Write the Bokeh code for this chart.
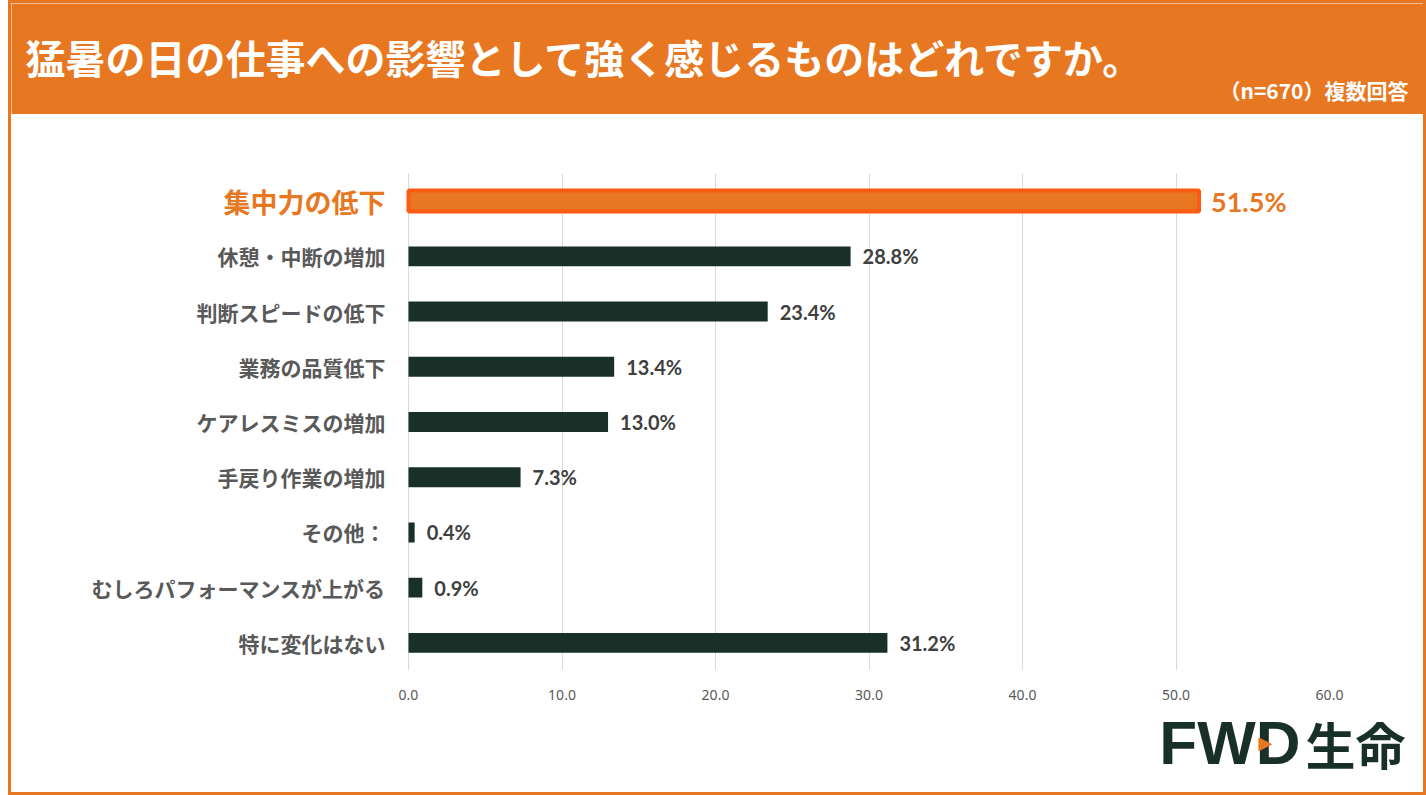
from bokeh.core.properties import value
from bokeh.embed import file_html
from bokeh.layouts import column
from bokeh.models import (ColumnDataSource, FactorRange, Label, LabelSet,
                          NumeralTickFormatter, Range1d)
from bokeh.plotting import figure
from bokeh.resources import INLINE

# survey results (%), n=670, multiple answers
categories = ["集中力の低下", "休憩・中断の増加", "判断スピードの低下", "業務の品質低下",
              "ケアレスミスの増加", "手戻り作業の増加", "その他：",
              "むしろパフォーマンスが上がる", "特に変化はない"]
values = [51.5, 28.8, 23.4, 13.4, 13.0, 7.3, 0.4, 0.9, 31.2]
x_ticks = [0, 10, 20, 30, 40, 50, 60]
highlight = "集中力の低下"

title_text = "猛暑の日の仕事への影響として強く感じるものはどれですか。"
note_text = "（n=670）複数回答"

ORANGE = "#E87722"
ORANGE_LINE = "#FF5A14"
DARK = "#183028"
GREY = "#595959"
JP = "Noto Sans CJK JP"

W = 1412          # inner width (3px orange frame on each side + 8px margin)
HEAD_H, MAIN_H, FOOT_H = 111, 591, 87


def panel(h, bg):
    # plain drawing area in pixel coordinates, y pointing down
    f = figure(width=W, height=h, title=None, toolbar_location=None,
               output_backend="svg", x_axis_location=None,
               y_axis_location=None, x_range=Range1d(0, W),
               y_range=Range1d(h, 0), min_border=0, frame_align=False)
    f.background_fill_color = bg
    f.border_fill_color = bg
    f.outline_line_color = None
    f.grid.visible = False
    return f


# header
head = panel(HEAD_H, ORANGE)
head.add_layout(Label(x=14, y=53, text=title_text, text_color="white",
                      text_font=JP, text_font_style="bold",
                      text_font_size="40px", text_baseline="middle",
                      text_align="left"))
head.add_layout(Label(x=1397, y=86, text=note_text, text_color="white",
                      text_font=JP, text_font_style="bold",
                      text_font_size="21px", text_baseline="middle",
                      text_align="right"))

# main chart
FR_L, ZERO, SIXTY = 50, 397, 1318        # frame left, x=0 and x=60 in px
x_start = -60 * (ZERO - FR_L) / (SIXTY - ZERO)

p = figure(width=W, height=MAIN_H, title=None, toolbar_location=None,
           output_backend="svg", frame_align=False,
           y_range=FactorRange(factors=list(reversed(categories))),
           x_range=Range1d(x_start, 60),
           min_border_left=FR_L, min_border_right=W - SIXTY,
           min_border_top=59, min_border_bottom=35)
p.background_fill_color = "white"
p.border_fill_color = "white"
p.outline_line_color = None

rest = [(c, v) for c, v in zip(categories, values) if c != highlight]
src = ColumnDataSource(dict(cat=[c for c, _ in rest], val=[v for _, v in rest],
                            lbl=[f"{v:.1f}%" for _, v in rest]))
hi_val = values[categories.index(highlight)]
hi_src = ColumnDataSource(dict(cat=[highlight], val=[hi_val],
                               lbl=[f"{hi_val:.1f}%"]))

p.hbar(y="cat", right="val", left=0, height=0.36, source=src,
       fill_color=DARK, line_color=None)
p.hbar(y="cat", right="val", left=0, height=0.38, source=hi_src,
       fill_color=ORANGE, line_color=ORANGE_LINE, line_width=4)

# value labels
p.add_layout(LabelSet(x="val", y="cat", text="lbl", source=src,
                      x_offset=12, text_baseline="middle", text_align="left",
                      text_font=value("Lato"), text_font_style="bold",
                      text_font_size="20px", text_color="#404040"))
p.add_layout(LabelSet(x="val", y="cat", text="lbl", source=hi_src,
                      x_offset=12, text_baseline="middle", text_align="left",
                      text_font=value("Lato"), text_font_style="bold",
                      text_font_size="27px", text_color=ORANGE))
# category labels
p.add_layout(LabelSet(x=0, y="cat", text="cat", source=src,
                      x_offset=-23, text_baseline="middle", text_align="right",
                      text_font=value(JP), text_font_style="bold",
                      text_font_size="21px", text_color=GREY))
p.add_layout(LabelSet(x=0, y="cat", text="cat", source=hi_src,
                      x_offset=-23, text_baseline="middle", text_align="right",
                      text_font=value(JP), text_font_style="bold",
                      text_font_size="27px", text_color=ORANGE))

p.yaxis.visible = False
p.xaxis.ticker = x_ticks
p.xaxis.formatter = NumeralTickFormatter(format="0.0")
p.xaxis.axis_line_color = None
p.xaxis.major_tick_line_color = None
p.xaxis.minor_tick_line_color = None
p.xaxis.major_label_standoff = 13
p.xaxis.major_label_text_font = "Noto Sans"
p.xaxis.major_label_text_font_size = "14px"
p.xaxis.major_label_text_color = GREY

p.xgrid.grid_line_color = "#D9D9D9"
p.ygrid.grid_line_color = None

# footer with logo
foot = panel(FOOT_H, "white")
foot.add_layout(Label(x=1289, y=37, text="FWD", text_color=DARK,
                      text_font="Liberation Sans", text_font_style="bold",
                      text_font_size="62px", text_baseline="middle",
                      text_align="right"))
foot.add_layout(Label(x=1254, y=37, text="▶", text_color=ORANGE,
                      text_font="DejaVu Sans", text_font_size="18px",
                      text_baseline="middle", text_align="center"))
foot.add_layout(Label(x=1294, y=37, text="生命", text_color=DARK,
                      text_font=JP, text_font_style="bold",
                      text_font_size="50px", text_baseline="middle",
                      text_align="left"))

layout = column(head, p, foot, spacing=0)
layout.styles = {"margin-left": "8px", "border": f"3px solid {ORANGE}"}

open("out.html", "w").write(file_html(layout, INLINE))
